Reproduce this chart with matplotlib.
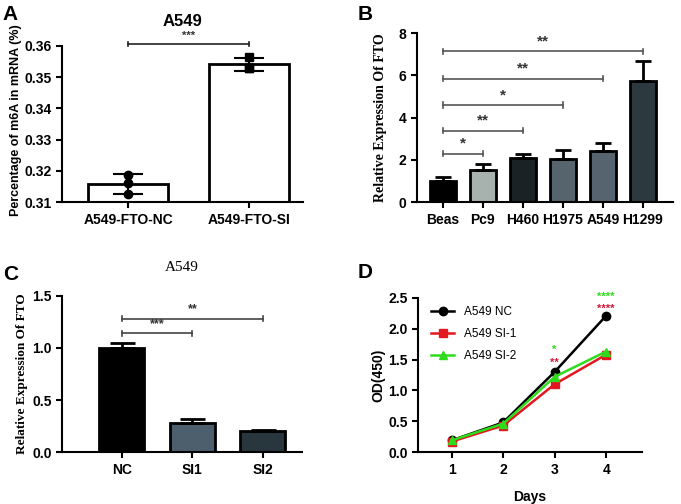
import numpy as np
import matplotlib
matplotlib.use("Agg")
import matplotlib.pyplot as plt

plt.rcParams['font.family'] = ['Liberation Sans', 'DejaVu Sans']

# panel A data
a_groups = ['A549-FTO-NC', 'A549-FTO-SI']
a_points = [[0.3188, 0.3160, 0.3125], [0.3563, 0.3530, 0.3530]]
a_sd = [0.0032, 0.0020]

# panel B data
b_cells = ['Beas', 'Pc9', 'H460', 'H1975', 'A549', 'H1299']
b_means = [1.0, 1.5, 2.08, 2.05, 2.42, 5.72]
b_err = [0.2, 0.3, 0.22, 0.42, 0.4, 0.95]
b_colors = ['#000000', '#a7b1ae', '#1b2226', '#56646d', '#566470', '#2c3a40']
b_sig = [('*', 1, 2.3), ('**', 2, 3.38), ('*', 3, 4.6), ('**', 4, 5.85), ('**', 5, 7.15)]

# panel C data
c_groups = ['NC', 'SI1', 'SI2']
c_means = [1.0, 0.28, 0.2]
c_err = [0.05, 0.04, 0.015]
c_colors = ['#000000', '#4d5f6d', '#28363e']
c_sig = [('***', 1, 1.14), ('**', 2, 1.28)]

# panel D data
days = [1, 2, 3, 4]
od_nc = [0.19, 0.48, 1.30, 2.21]
od_si1 = [0.17, 0.43, 1.10, 1.58]
od_si2 = [0.19, 0.46, 1.22, 1.63]

fig = plt.figure(figsize=(6.81, 5.04), dpi=100)


def style(ax):
    for s in ['top', 'right']:
        ax.spines[s].set_visible(False)
    for s in ['left', 'bottom']:
        ax.spines[s].set_linewidth(1.5)
    ax.tick_params(width=1.5, length=4, labelsize=10)
    for t in ax.get_xticklabels() + ax.get_yticklabels():
        t.set_fontweight('bold')


def bracket(ax, x0, x1, y, txt, color='#555555', fs=9, cap=0.1, gap=1.2):
    kw = dict(color=color, lw=1.2, clip_on=False)
    ax.plot([x0, x1], [y, y], **kw)
    ax.plot([x0, x0], [y - cap, y + cap], **kw)
    ax.plot([x1, x1], [y - cap, y + cap], **kw)
    ax.text((x0 + x1) / 2, y + cap * gap, txt, ha='center', va='bottom', fontsize=fs, fontweight='bold', color='#333333')


# ---- A
axA = fig.add_axes([0.091, 0.599, 0.354, 0.310])
xa = np.arange(2)
a_means = [np.mean(p) for p in a_points]
axA.bar(xa, np.array(a_means) - 0.31, bottom=0.31, width=0.66, color='white', edgecolor='black', linewidth=2)
axA.errorbar(xa, a_means, yerr=a_sd, fmt='none', ecolor='black', elinewidth=1.5, capsize=11, capthick=1.5)
axA.plot([0, 0, 0], a_points[0], 'o', color='black', ms=6)
axA.plot([1, 1, 1], a_points[1], 's', color='black', ms=6)
axA.set_ylim(0.31, 0.36)
axA.set_xlim(-0.55, 1.45)
axA.set_yticks([0.31, 0.32, 0.33, 0.34, 0.35, 0.36])
axA.set_xticks(xa)
axA.set_xticklabels(a_groups)
axA.set_ylabel('Percentage of m6A in mRNA (%)', fontsize=9, fontweight='bold', family='Liberation Sans')
axA.yaxis.set_label_coords(-0.166, 0.525)
axA.set_title('A549', fontsize=12, fontweight='bold', pad=14)
style(axA)
bracket(axA, 0, 1, 0.3605, '***', color='#222222', fs=8, cap=0.0007, gap=1.5)

# ---- B
axB = fig.add_axes([0.612, 0.599, 0.376, 0.335])
xb = np.arange(len(b_cells))
axB.bar(xb, b_means, width=0.64, color=b_colors, edgecolor='black', linewidth=2)
axB.errorbar(xb, b_means, yerr=[np.zeros(len(b_err)), b_err], fmt='none', ecolor='black', elinewidth=2, capsize=6, capthick=2)
axB.set_ylim(0, 8)
axB.set_xlim(-0.65, 5.75)
axB.set_yticks([0, 2, 4, 6, 8])
axB.set_xticks(xb)
axB.set_xticklabels(b_cells)
axB.set_ylabel('Relative Expression Of FTO', fontsize=10, fontweight='bold', family='Liberation Serif')
axB.yaxis.set_label_coords(-0.117, 0.5)
style(axB)
for txt, j, y in b_sig:
    bracket(axB, 0, j, y, txt, color='#555555', fs=11, cap=0.12)

# ---- C
axC = fig.add_axes([0.091, 0.103, 0.352, 0.310])
xc = np.arange(len(c_groups))
axC.bar(xc, c_means, width=0.64, color=c_colors, edgecolor='black', linewidth=2)
axC.errorbar(xc, c_means, yerr=[np.zeros(len(c_err)), c_err], fmt='none', ecolor='black', elinewidth=2, capsize=9, capthick=2)
axC.set_ylim(0, 1.5)
axC.set_xlim(-0.85, 2.55)
axC.set_yticks([0.0, 0.5, 1.0, 1.5])
axC.set_xticks(xc)
axC.set_xticklabels(c_groups)
axC.set_ylabel('Relative Expression Of FTO', fontsize=9.5, fontweight='bold', family='Liberation Serif')
axC.yaxis.set_label_coords(-0.142, 0.5)
axC.set_title('A549', fontsize=11, family='Liberation Serif', pad=18)
style(axC)
for txt, j, y in c_sig:
    bracket(axC, 0, j, y, txt, color='#444444', fs=9, cap=0.025)

# ---- D
axD = fig.add_axes([0.614, 0.103, 0.329, 0.306])
axD.plot(days, od_nc, '-o', color='black', lw=1.8, ms=6, label='A549 NC')
axD.plot(days, od_si1, '-s', color='#e3171f', lw=1.8, ms=6, label='A549 SI-1')
axD.plot(days, od_si2, '-^', color='#2edc1c', lw=1.8, ms=6, label='A549 SI-2')
axD.set_ylim(0, 2.5)
axD.set_xlim(0.35, 4.7)
axD.set_xticks(days)
axD.set_yticks([0.0, 0.5, 1.0, 1.5, 2.0, 2.5])
axD.set_xlabel('Days', fontsize=10, fontweight='bold', labelpad=10)
axD.set_ylabel('OD(450)', fontsize=10, fontweight='bold')
axD.yaxis.set_label_coords(-0.147, 0.5)
axD.legend(loc='upper left', frameon=False, fontsize=8.5, handlelength=2, borderaxespad=0.3, labelspacing=0.85,
           bbox_to_anchor=(0.02, 1.0))
style(axD)
star = dict(ha='center', va='center', fontsize=8, fontweight='bold', clip_on=False)
axD.text(3, 1.66, '*', color='#2edc1c', **star)
axD.text(3, 1.45, '**', color='#d01c3c', **star)
axD.text(4, 2.52, '****', color='#2edc1c', **star)
axD.text(4, 2.32, '****', color='#d01c3c', **star)

# panel letters
for lab, (x, y) in zip('ABCD', [(0.003, 0.96), (0.525, 0.96), (0.005, 0.445), (0.525, 0.448)]):
    fig.text(x, y, lab, fontsize=15, fontweight='bold')

fig.savefig('out.png', dpi=100)
